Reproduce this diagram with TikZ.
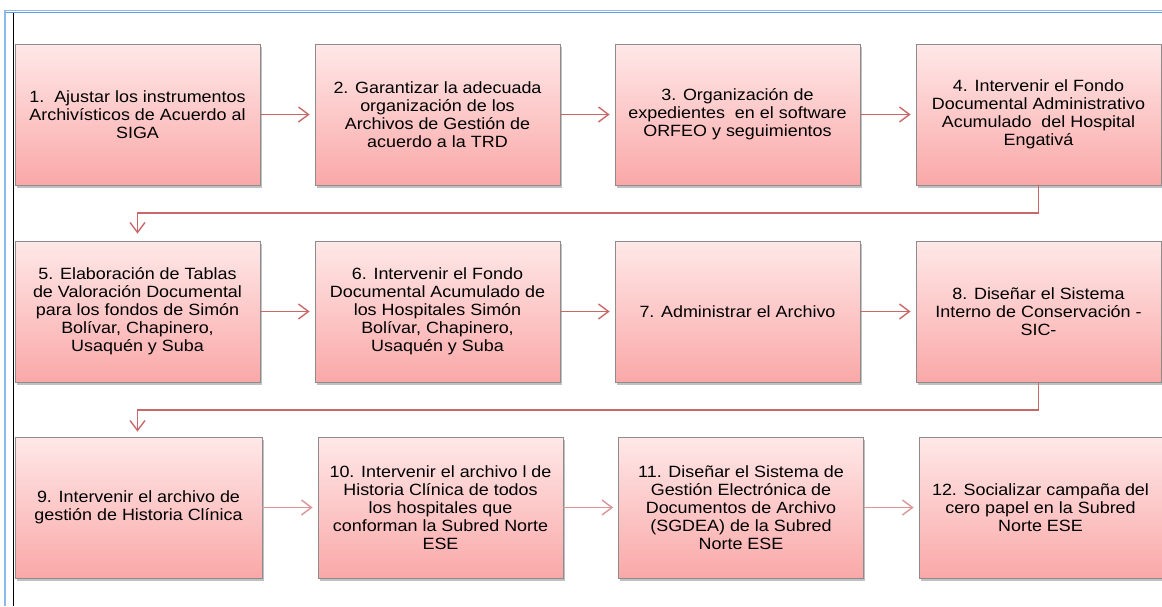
\documentclass[tikz,border=0pt]{standalone}
\usepackage{fontspec}
\setmainfont{Liberation Sans}[FakeStretch=1.1]
\usetikzlibrary{arrows.meta,shadows}
\definecolor{boxtop}{RGB}{255,232,232}
\definecolor{boxbot}{RGB}{250,168,168}
\definecolor{boxline}{RGB}{140,140,140}
\definecolor{arrA}{RGB}{200,105,105}
\definecolor{arrB}{RGB}{218,150,150}
\definecolor{frameblue}{RGB}{100,155,215}
\definecolor{frameblueL}{RGB}{140,185,235}
\tikzset{
  stepbox/.style={draw=boxline, line width=0.8pt, top color=boxtop, bottom color=boxbot,
    minimum width=245pt, minimum height=141pt, inner sep=0pt, align=center,
    font=\fontsize{16.3}{18}\selectfont,
    drop shadow={shadow xshift=1.5pt, shadow yshift=-2.5pt, opacity=0.35, fill=black!70}},
  conn/.style={draw=arrA, line width=1.6pt, -{Straight Barb[length=10pt,width=15pt,line width=1.4pt]}},
  connl/.style={conn, draw=arrB},
}
\begin{document}
\begin{tikzpicture}[x=1pt,y=-1pt]
\useasboundingbox (0,0) rectangle (1162,606);
\fill[white] (0,0) rectangle (1162,606);
% frame
\draw[frameblueL, line width=1.6pt] (5,10.5) -- (1162,10.5);
\draw[frameblue, line width=1pt] (5,12) -- (1162,12);
\draw[frameblueL, line width=2pt] (5,10) -- (5,606);
\draw[black, line width=1.6pt] (13.5,12.5) -- (13.5,606);
% row 1
\node[stepbox] (b1) at (137.5,114.5) {1.\ \ Ajustar los instrumentos\\Archivísticos de Acuerdo al\\SIGA};
\node[stepbox] (b2) at (437.5,114.5) {2. Garantizar la adecuada\\organización de los\\Archivos de Gestión de\\acuerdo a la TRD};
\node[stepbox] (b3) at (737.5,114.5) {3. Organización de\\expedientes\ \ en el software\\ORFEO y seguimientos};
\node[stepbox] (b4) at (1038.5,114.5) {4. Intervenir el Fondo\\Documental Administrativo\\Acumulado\ \ del Hospital\\Engativá};
% row 2
\node[stepbox] (b5) at (137.5,311.5) {5. Elaboración de Tablas\\de Valoración Documental\\para los fondos de Simón\\Bolívar, Chapinero,\\Usaquén y Suba};
\node[stepbox] (b6) at (437.5,311.5) {6. Intervenir el Fondo\\Documental Acumulado de\\los Hospitales Simón\\Bolívar, Chapinero,\\Usaquén y Suba};
\node[stepbox] (b7) at (737.5,311.5) {7. Administrar el Archivo};
\node[stepbox] (b8) at (1038.5,311.5) {8. Diseñar el Sistema\\Interno de Conservación -\\SIC-};
% row 3
\node[stepbox, minimum width=247pt] (b9) at (138.5,507.5) {9. Intervenir el archivo de\\gestión de Historia Clínica};
\node[stepbox] (b10) at (440.5,507.5) {10. Intervenir el archivo l de\\Historia Clínica de todos\\los hospitales que\\conforman la Subred Norte\\ESE};
\node[stepbox] (b11) at (741,507.5) {11. Diseñar el Sistema de\\Gestión Electrónica de\\Documentos de Archivo\\(SGDEA) de la Subred\\Norte ESE};
\node[stepbox, minimum width=243pt] (b12) at (1040.5,507.5) {12. Socializar campaña del\\cero papel en la Subred\\Norte ESE};
% connectors
\draw[conn, shorten >=5pt] (b1.east) -- (b2.west);
\draw[conn, shorten >=5pt] (b2.east) -- (b3.west);
\draw[conn, shorten >=5pt] (b3.east) -- (b4.west);
\draw[conn, shorten >=7pt] (b4.south) -- (b4.south |- 0,213) -| (b5.north);
\draw[conn, shorten >=5pt] (b5.east) -- (b6.west);
\draw[conn, shorten >=5pt] (b6.east) -- (b7.west);
\draw[conn, shorten >=5pt] (b7.east) -- (b8.west);
\draw[conn, shorten >=5pt] (b8.south) -- (b8.south |- 0,410) -| (b5.south |- b9.north);
\draw[connl, shorten >=5pt] (b9.east) -- (b10.west);
\draw[connl, shorten >=5pt] (b10.east) -- (b11.west);
\draw[connl, shorten >=5pt] (b11.east) -- (b12.west);
\end{tikzpicture}
\end{document}
